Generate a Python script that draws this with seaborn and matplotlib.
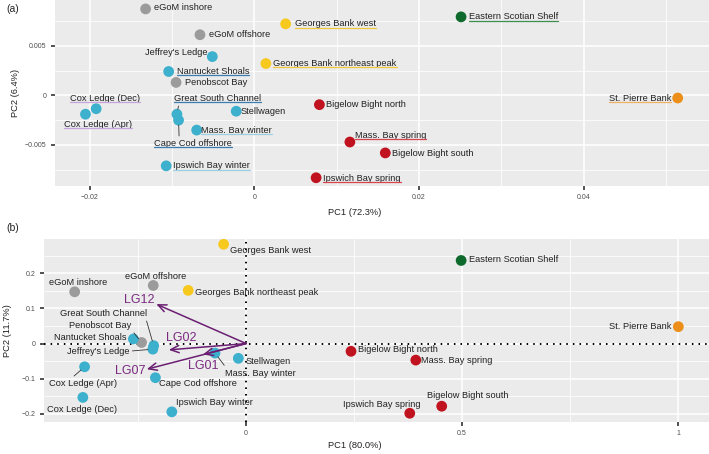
import matplotlib
matplotlib.use('Agg')
import matplotlib.pyplot as plt
from matplotlib.lines import Line2D
from matplotlib.text import Text
import pandas as pd
import seaborn as sns

# sites and their groups
sites = ['eGoM inshore', 'eGoM offshore', 'Penobscot Bay',
         'Georges Bank west', 'Georges Bank northeast peak', 'Eastern Scotian Shelf',
         "Jeffrey's Ledge", 'Nantucket Shoals', 'Cox Ledge (Dec)', 'Cox Ledge (Apr)',
         'Great South Channel', 'Cape Cod offshore', 'Stellwagen', 'Mass. Bay winter',
         'Ipswich Bay winter', 'Bigelow Bight north', 'Mass. Bay spring',
         'Bigelow Bight south', 'Ipswich Bay spring', 'St. Pierre Bank']
groups = ['grey', 'grey', 'grey', 'yellow', 'yellow', 'green',
          'blue', 'blue', 'blue', 'blue', 'blue', 'blue', 'blue', 'blue', 'blue',
          'red', 'red', 'red', 'red', 'orange']

# panel (a) scores
pc1_a = [-0.0132, -0.0066, -0.0095, 0.0038, 0.0014, 0.0251,
         -0.0051, -0.0104, -0.0192, -0.0205, -0.0094, -0.0092, -0.0022, -0.0070,
         -0.0107, 0.0079, 0.0116, 0.0159, 0.0075, 0.0514]
pc2_a = [0.0087, 0.0061, 0.0013, 0.0072, 0.0032, 0.0079,
         0.0039, 0.0024, -0.00135, -0.0019, -0.0019, -0.0025, -0.0016, -0.0035,
         -0.0071, -0.00094, -0.0047, -0.0058, -0.0083, -0.00027]

# panel (b) scores
pc1_b = [-0.397, -0.215, -0.242, -0.052, -0.134, 0.498,
         -0.216, -0.261, -0.378, -0.374, -0.214, -0.210, -0.018, -0.072,
         -0.172, 0.243, 0.393, 0.453, 0.379, 1.001]
pc2_b = [0.147, 0.165, 0.003, 0.282, 0.151, 0.236,
         -0.016, 0.013, -0.153, -0.066, -0.006, -0.097, -0.042, -0.027,
         -0.194, -0.022, -0.047, -0.178, -0.198, 0.048]

# loading vectors in panel (b)
loadings = ['LG12', 'LG02', 'LG01', 'LG07']
load_pc1 = [-0.208, -0.179, -0.100, -0.230]
load_pc2 = [0.112, -0.018, -0.031, -0.073]

palette = {'grey': '#9b9b9b', 'yellow': '#f7c81e', 'green': '#0e6a2c',
           'blue': '#3cb0cc', 'red': '#c1121f', 'orange': '#ec8f1a'}

# label placement (offset in pixels from point, alignment)
lab_a = {
    'eGoM inshore': (8, 1, 'left'), 'eGoM offshore': (9, 0, 'left'),
    'Penobscot Bay': (8.5, 0, 'left'), 'Georges Bank west': (9, 0, 'left'),
    'Georges Bank northeast peak': (7.5, 0, 'left'), 'Eastern Scotian Shelf': (8, 0, 'left'),
    "Jeffrey's Ledge": (-5, 4.4, 'right'), 'Nantucket Shoals': (8, 0.3, 'left'),
    'Cox Ledge (Dec)': (-26, 10.6, 'left'), 'Cox Ledge (Apr)': (-21.7, -10.3, 'left'),
    'Great South Channel': (-3, 16, 'left'), 'Cape Cod offshore': (-24.3, -23.6, 'left'),
    'Stellwagen': (4.3, 0, 'left'), 'Mass. Bay winter': (4.7, -0.7, 'left'),
    'Ipswich Bay winter': (6.7, 0, 'left'), 'Bigelow Bight north': (6.7, 0, 'left'),
    'Mass. Bay spring': (5, 6.7, 'left'), 'Bigelow Bight south': (6.4, -0.6, 'left'),
    'Ipswich Bay spring': (7.3, -0.4, 'left'), 'St. Pierre Bank': (-6.6, 0, 'right'),
}
under_a = {
    'Georges Bank west': '#f2c53a', 'Georges Bank northeast peak': '#f2c53a',
    'Eastern Scotian Shelf': '#3f8f50', 'Nantucket Shoals': '#3a7db3',
    'Cox Ledge (Dec)': '#c7a3dc', 'Cox Ledge (Apr)': '#c7a3dc',
    'Great South Channel': '#3a7db3', 'Cape Cod offshore': '#3a7db3',
    'Mass. Bay winter': '#9dcfe2', 'Ipswich Bay winter': '#9dcfe2',
    'Mass. Bay spring': '#d9434d', 'Ipswich Bay spring': '#d9434d',
    'St. Pierre Bank': '#eeb266',
}
seg_a = {'Great South Channel': (0.06, 0), 'Cape Cod offshore': (0.32, 1)}

lab_b = {
    'eGoM inshore': (3.7, 9.3, 'center'), 'eGoM offshore': (2.3, 9, 'center'),
    'Penobscot Bay': (-10.3, 17.4, 'right'), 'Georges Bank west': (6, -6.7, 'left'),
    'Georges Bank northeast peak': (7, -2, 'left'), 'Eastern Scotian Shelf': (8.3, 1.4, 'left'),
    "Jeffrey's Ledge": (-23.7, -2, 'right'), 'Nantucket Shoals': (-7, 1.7, 'right'),
    'Cox Ledge (Dec)': (-36, -11.6, 'left'), 'Cox Ledge (Apr)': (-35.3, -17, 'left'),
    'Great South Channel': (-6.3, 32.4, 'right'), 'Cape Cod offshore': (4, -5.6, 'left'),
    'Stellwagen': (7.7, -3.4, 'left'), 'Mass. Bay winter': (10.3, -20, 'left'),
    'Ipswich Bay winter': (4, 9.3, 'left'), 'Bigelow Bight north': (6.7, 1.5, 'left'),
    'Mass. Bay spring': (5.6, 0, 'left'), 'Bigelow Bight south': (-14.4, 11, 'left'),
    'Ipswich Bay spring': (10.6, 8.6, 'right'), 'St. Pierre Bank': (-6.6, 0, 'right'),
}
seg_b = {'Great South Channel': (0.98, 0), 'Penobscot Bay': (1, 0),
         "Jeffrey's Ledge": (1, 0.5), 'Mass. Bay winter': (0.02, 1),
         'Cox Ledge (Apr)': (0.31, 1)}

# LG label offsets from arrow tip (pixels)
lg_off = {'LG12': (-17, 4), 'LG02': (12.5, 11.7), 'LG01': (0, -12), 'LG07': (-17, -1.7)}

sns.set_theme(style='darkgrid', rc={'axes.facecolor': '#ebebeb', 'grid.color': 'white'})
plt.rcParams['font.family'] = ['Liberation Sans', 'DejaVu Sans']

df_a = pd.DataFrame({'site': sites, 'group': groups, 'PC1': pc1_a, 'PC2': pc2_a})
df_b = pd.DataFrame({'site': sites, 'group': groups, 'PC1': pc1_b, 'PC2': pc2_b})

W, H = 709, 454
fig = plt.figure(figsize=(W / 100, H / 100), dpi=100)
ax_a = fig.add_axes([55 / W, 1 - 185.7 / H, 654 / W, 185.7 / H])
ax_b = fig.add_axes([44 / W, 1 - 421.7 / H, 665 / W, 182.7 / H])


def style_axes(ax, xmaj, xlabs, xmin, ymaj, ylabs, ymin):
    ax.set_xticks(xmaj)
    ax.set_xticklabels(xlabs)
    ax.set_xticks(xmin, minor=True)
    ax.set_yticks(ymaj)
    ax.set_yticklabels(ylabs)
    ax.set_yticks(ymin, minor=True)
    ax.grid(which='major', color='white', lw=1.1)
    ax.grid(which='minor', color='white', lw=0.55)
    ax.tick_params(which='major', length=3, width=1.2, color='#333333',
                   labelsize=5, labelcolor='#4d4d4d', pad=3, bottom=True, left=True)
    ax.tick_params(which='minor', length=0)
    for s in ax.spines.values():
        s.set_visible(False)


texts = []


def draw_panel(ax, df, labs, unders, segs):
    sns.scatterplot(data=df, x='PC1', y='PC2', hue='group', palette=palette,
                    s=60, edgecolor='none', legend=False, ax=ax, zorder=3)
    for _, r in df.iterrows():
        dx, dy, ha = labs[r['site']]
        kw = {}
        if r['site'] in segs:
            kw['arrowprops'] = dict(arrowstyle='-', color='#333333', lw=0.6,
                                    shrinkA=0, shrinkB=3.5, relpos=segs[r['site']])
        t = ax.annotate(r['site'], (r['PC1'], r['PC2']), xytext=(dx, dy),
                        textcoords='offset pixels', ha=ha, va='center',
                        fontsize=6.7, color='#222222', zorder=4, **kw)
        if r['site'] in unders:
            texts.append((t, unders[r['site']]))


# panel (a)
draw_panel(ax_a, df_a, lab_a, under_a, seg_a)
ax_a.set_xlim(-0.0242, 0.0552)
ax_a.set_ylim(-0.0091, 0.0096)
style_axes(ax_a, [-0.02, 0, 0.02, 0.04], ['\u22120.02', '0', '0.02', '0.04'],
           [-0.01, 0.01, 0.03, 0.05],
           [-0.005, 0, 0.005], ['\u22120.005', '0', '0.005'],
           [-0.0075, -0.0025, 0.0025, 0.0075])
ax_a.set_xlabel('PC1 (72.3%)', fontsize=6.7, color='#222222')
ax_a.set_ylabel('PC2 (6.4%)', fontsize=6.7, color='#222222')
ax_a.xaxis.set_label_coords((355 - 55) / 654, -(208 - 185.7) / 185.7)
ax_a.yaxis.set_label_coords(-(55 - 20) / 654, 0.5)

# panel (b)
ax_b.axhline(0, color='black', ls=(0, (0.8, 2.6)), lw=1.4, zorder=2)
ax_b.axvline(0, color='black', ls=(0, (0.8, 2.6)), lw=1.4, zorder=2)
draw_panel(ax_b, df_b, lab_b, {}, seg_b)
for name, lx, ly in zip(loadings, load_pc1, load_pc2):
    ax_b.annotate('', xy=(lx, ly), xytext=(0, 0),
                  arrowprops=dict(arrowstyle='->,head_length=0.5,head_width=0.22',
                                  color='#6b1f72', lw=1.1, shrinkA=0, shrinkB=0),
                  zorder=5)
    dx, dy = lg_off[name]
    ax_b.annotate(name, (lx, ly), xytext=(dx, dy), textcoords='offset pixels',
                  ha='center', va='center', fontsize=9, color='#7b2a80', zorder=5)
ax_b.set_xlim(-0.468, 1.072)
ax_b.set_ylim(-0.222, 0.297)
style_axes(ax_b, [0, 0.5, 1], ['0', '0.5', '1'], [-0.25, 0.25, 0.75],
           [-0.2, -0.1, 0, 0.1, 0.2], ['\u22120.2', '\u22120.1', '0', '0.1', '0.2'],
           [-0.15, -0.05, 0.05, 0.15, 0.25])
ax_b.set_xlabel('PC1 (80.0%)', fontsize=6.7, color='#222222')
ax_b.set_ylabel('PC2 (11.7%)', fontsize=6.7, color='#222222')
ax_b.xaxis.set_label_coords((355 - 44) / 665, -(441.5 - 421.7) / 182.7)
ax_b.yaxis.set_label_coords(-(44 - 12) / 665, 0.5)

fig.text(6 / W, 1 - 9 / H, '(a)', fontsize=7.5, va='center', ha='left', color='#222222')
fig.text(6 / W, 1 - 228 / H, '(b)', fontsize=7.5, va='center', ha='left', color='#222222')

# underline coloured labels in panel (a), using the text box only
fig.canvas.draw()
rend = fig.canvas.get_renderer()
for t, col in texts:
    bb = Text.get_window_extent(t, rend)
    y = (bb.y0 + 0.8) / H
    fig.add_artist(Line2D([bb.x0 / W, bb.x1 / W], [y, y], transform=fig.transFigure,
                          color=col, lw=0.9, zorder=4))

fig.savefig('out.png', dpi=100)
